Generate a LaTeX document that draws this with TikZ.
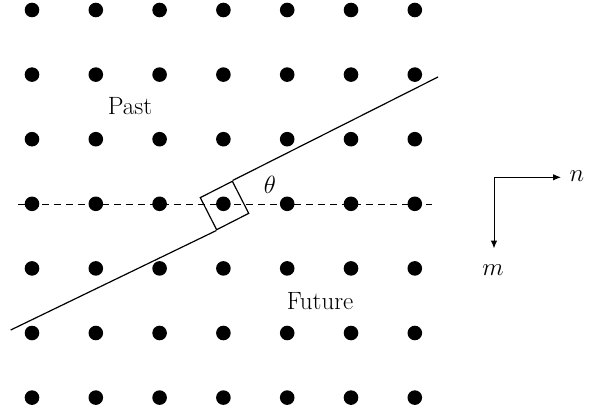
\documentclass[tikz,border=0pt]{standalone}
\usetikzlibrary{arrows.meta}
\begin{document}
\begin{tikzpicture}[x=1pt,y=-1pt,
  dot/.style={circle,fill=black,inner sep=0pt,minimum size=14.6pt},
  lab/.style={inner sep=0pt,font=\fontsize{25}{30}\selectfont},
  boundary/.style={line width=1.2pt},
  axis/.style={line width=1pt,-{Latex[length=8pt,width=6.5pt]}},
  timeline/.style={line width=1pt,dash pattern=on 7pt off 5pt}]
\useasboundingbox (0,0) rectangle (589,412);
% dashed row line
\coordinate (dl) at (18,204);
\coordinate (dr) at (432,204);
\draw[timeline] (dl) -- (dr);
% dots
\foreach \i in {0,...,6}{
  \foreach \j in {0,...,6}{
    \node[dot] (d-\i-\j) at ({32+63.8*\j},{10+64.6*\i}) {};
  }
}
% current-sample square
\node[draw,line width=1.2pt,minimum size=36pt,inner sep=0pt,rotate=27] (sq) at (224.5,205.5) {};
% boundary line
\coordinate (bl) at (10.7,330);
\coordinate (br) at (438,77);
\draw[boundary] (bl) -- (sq.south west);
\draw[boundary] (sq.north east) -- (br);
% labels
\node[lab] (past) at (130,106.5) {Past};
\node[lab] (future) at (320,301) {Future};
\node[lab] (theta) at (270,184.5) {$\theta$};
% axes
\coordinate (o) at (494,177.3);
\coordinate (ne) at (561,177.3);
\coordinate (me) at (494,248.5);
\draw[axis] (o) -- (ne);
\draw[axis] (o) -- (me);
\node[lab] (n) at (577,176) {$n$};
\node[lab] (m) at (493,270) {$m$};
\end{tikzpicture}
\end{document}
